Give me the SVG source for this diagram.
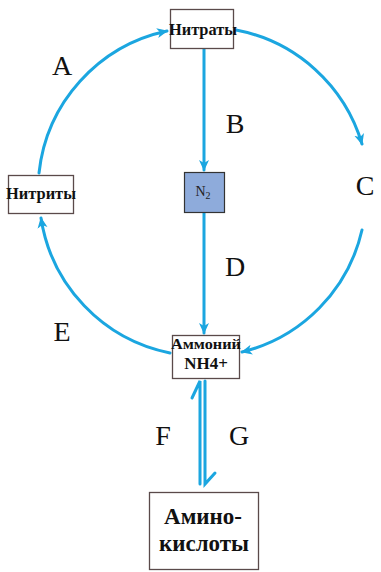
<svg xmlns="http://www.w3.org/2000/svg" width="381" height="572" viewBox="0 0 381 572">
<defs>
<marker id="ah" markerUnits="userSpaceOnUse" markerWidth="12" markerHeight="12" viewBox="0 0 12 12" refX="10" refY="6" orient="auto">
<path d="M0,1 L11,6 L0,11 L3,6 Z" fill="#1ba6e0"/>
</marker>
<style>
.box{fill:#fff;stroke:#5a4a4a;stroke-width:1.3}
.ln{fill:none;stroke:#1ba6e0;stroke-width:3;stroke-linecap:round}
.lbl{font-family:"Liberation Serif","Times New Roman",serif;font-weight:bold;fill:#111;text-anchor:middle}
.let{font-family:"Liberation Serif","Times New Roman",serif;font-size:28px;fill:#111;text-anchor:middle}
</style>
</defs>
<rect width="381" height="572" fill="#fff"/>
<g id="connectors">
<path class="ln" d="M39 173 A163 163 0 0 1 167 31" marker-end="url(#ah)"/>
<path class="ln" d="M236 30 A163 163 0 0 1 362 144" marker-end="url(#ah)"/>
<path class="ln" d="M362 230 A163 163 0 0 1 242 352" marker-end="url(#ah)"/>
<path class="ln" d="M170 353 A163 163 0 0 1 41 218" marker-end="url(#ah)"/>
<path class="ln" d="M204 49 L204 170" marker-end="url(#ah)"/>
<path class="ln" d="M204 213 L204 333" marker-end="url(#ah)"/>
<path class="ln" d="M200 484 L200 381 L192 398" stroke-linecap="butt" stroke-linejoin="miter"/>
<path class="ln" d="M205 381 L205 484 L215 473" stroke-linecap="butt" stroke-linejoin="miter"/>
</g>
<g id="nitrates">
<rect class="box" x="170.5" y="9.5" width="63" height="39"/>
<text class="lbl" x="203" y="35" font-size="16" textLength="68" lengthAdjust="spacingAndGlyphs">Нитраты</text>
</g>
<g id="nitrites">
<rect class="box" x="8.5" y="175.5" width="65" height="38"/>
<text class="lbl" x="41" y="199" font-size="16" textLength="70" lengthAdjust="spacingAndGlyphs">Нитриты</text>
</g>
<g id="n2">
<rect x="184.5" y="172.5" width="40" height="40" fill="#8eabdb" stroke="#333" stroke-width="1.2"/>
<text x="203" y="196" font-family="Liberation Serif,serif" font-size="14" fill="#222" text-anchor="middle">N<tspan font-size="10" dy="3">2</tspan></text>
</g>
<g id="ammonium">
<rect class="box" x="172.5" y="335.5" width="67" height="43"/>
<text class="lbl" x="206" y="349" font-size="15" textLength="70" lengthAdjust="spacingAndGlyphs">Аммоний</text>
<text class="lbl" x="206" y="369" font-size="17">NH4+</text>
</g>
<g id="amino">
<rect class="box" x="149.5" y="492.5" width="109" height="77"/>
<text class="lbl" x="203" y="524" font-size="23">Амино-</text>
<text class="lbl" x="204" y="551" font-size="23">кислоты</text>
</g>
<g id="labels">
<text class="let" x="62" y="75">A</text>
<text class="let" x="235" y="133">B</text>
<text class="let" x="365" y="195">C</text>
<text class="let" x="235" y="276">D</text>
<text class="let" x="62" y="341">E</text>
<text class="let" x="163" y="445">F</text>
<text class="let" x="239" y="445">G</text>
</g>
</svg>
